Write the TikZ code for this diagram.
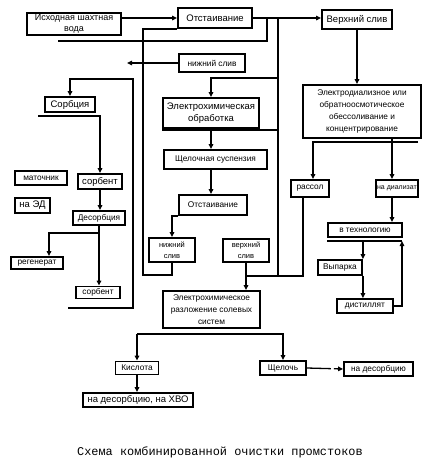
\documentclass[tikz,border=0pt]{standalone}
\usepackage{fontspec}
\setmainfont{Liberation Sans}
\newfontfamily\capfont{Liberation Mono}
\usetikzlibrary{arrows.meta}
\begin{document}
\begin{tikzpicture}[x=1pt,y=-1pt,
 box/.style={draw, line width=1.8pt, inner sep=0pt, align=center, font=\fontsize{9.5}{12}\selectfont},
 sm/.style={font=\fontsize{8.3}{12}\selectfont},
 ln/.style={line width=1.3pt},
 arr/.style={ln, -{Triangle[length=5pt,width=4.5pt]}}]
\useasboundingbox[fill=white] (0,0) rectangle (434,467);

% nodes
\node[box, minimum width=94pt, minimum height=22pt, font=\fontsize{9}{11}\selectfont] (src) at (74,24) {Исходная шахтная\\вода};
\node[box, minimum width=74pt, minimum height=20pt] (ots1) at (215,18) {Отстаивание};
\node[box, minimum width=70pt, minimum height=19pt] (vs1) at (357,19.5) {Верхний слив};
\node[box, minimum width=66pt, minimum height=18pt, sm] (ns1) at (212,63) {нижний слив};
\node[box, minimum width=50pt, minimum height=15pt] (sorb) at (70,104.5) {Сорбция};
\node[box, minimum width=96pt, minimum height=30pt] (eobr) at (211,113) {Электрохимическая\\обработка};
\node[box, minimum width=103pt, minimum height=19pt, sm] (shch) at (215.5,159.5) {Щелочная суспензия};
\node[box, minimum width=118pt, minimum height=53pt, font=\fontsize{8.3}{12.3}\selectfont] (ed) at (362,111.5) {Электродиализное или\\обратноосмотическое\\обессоливание и\\концентрирование};
\node[box, minimum width=52pt, minimum height=14pt, sm] (mat) at (41,178) {маточник};
\node[box, minimum width=44pt, minimum height=15pt] (sorbent1) at (100,181.5) {сорбент};
\node[box, minimum width=35pt, minimum height=15pt] (nued) at (32.5,205.5) {на ЭД};
\node[box, minimum width=38pt, minimum height=17pt, sm] (rassol) at (310,188.5) {рассол};
\node[box, minimum width=42pt, minimum height=17pt, font=\fontsize{7}{12}\selectfont] (dial) at (397,188.5) {на диализат};
\node[box, minimum width=68pt, minimum height=20pt, sm] (ots2) at (213,205) {Отстаивание};
\node[box, minimum width=52pt, minimum height=14pt, sm] (desorb) at (99,218) {Десорбция};
\node[box, minimum width=74pt, minimum height=14pt, sm] (vtech) at (365,230) {в технологию};
\node[box, minimum width=46pt, minimum height=24pt, font=\fontsize{7.5}{11}\selectfont] (ns2) at (172,250) {нижний\\слив};
\node[box, minimum width=46pt, minimum height=23pt, font=\fontsize{7.5}{11}\selectfont] (vs2) at (246,250.5) {верхний\\слив};
\node[box, minimum width=52pt, minimum height=12pt, sm] (regen) at (37,263) {регенерат};
\node[box, minimum width=44pt, minimum height=15pt, sm] (vyp) at (340,267.5) {Выпарка};
\node[box, minimum width=44pt, minimum height=12pt, sm] (sorbent2) at (98,292.5) {сорбент};
\node[box, minimum width=56pt, minimum height=14pt, sm] (distil) at (365,306) {дистиллят};
\node[box, minimum width=97pt, minimum height=37pt, font=\fontsize{8.3}{12.3}\selectfont] (ers) at (211.5,309.5) {Электрохимическое\\разложение солевых\\систем};
\node[box, minimum width=43pt, minimum height=13pt, sm] (acid) at (137,368) {Кислота};
\node[box, minimum width=46pt, minimum height=14pt, sm] (alk) at (283,368) {Щелочь};
\node[box, minimum width=69pt, minimum height=14pt, sm] (nades) at (378.5,369) {на десорбцию};
\node[box, minimum width=110pt, minimum height=14pt] (nadesxvo) at (138,400) {на десорбцию, на ХВО};
\node[font=\capfont\fontsize{11.9}{14}\selectfont] (cap) at (220,452) {Схема комбинированной очистки промстоков};

% coordinates
\coordinate (a1) at (278,19);
\coordinate (a2) at (278,276);
\coordinate (b1) at (267,19);
\coordinate (b2) at (58,41);
\coordinate (c1) at (143,275);
\coordinate (d1) at (127,63);
\coordinate (l1) at (68,308);
\coordinate (l2) at (133,79);
\coordinate (s1) at (38,116);
\coordinate (de1) at (99,233);
\coordinate (r1) at (303,276);
\coordinate (e1) at (418,142);
\coordinate (t1) at (327,241);
\coordinate (t2) at (402,241);
\coordinate (h1) at (137,334);

% connectors top
\draw[arr] (src.east |- ots1.west) -- (ots1.west);
\draw[arr] (ots1.east) -- (vs1.west |- ots1.east);
\draw[arr] (vs1.south) -- (vs1.south |- ed.north);
\draw[ln] (a1) -- (a2);
\draw[arr] (a1 |- 0,78) -| (eobr.north);
\draw[ln] (eobr.south west |- 0,130) -- (a1 |- 0,130);
\draw[ln] (b1) -- (b1 |- b2) -- (b2);
\draw[ln] (ots1.south west) -| (c1) -| (ns2.south);
\draw[arr] (ns1.west) -- (d1);

% left column
\draw[arr] (l1) -| (l2) -| (sorb.north);
\draw[arr] (s1) -| (sorbent1.north);
\draw[arr] (sorbent1.south) -- (sorbent1.south |- desorb.north);
\draw[arr] (desorb.south) -- (desorb.south |- sorbent2.north);
\draw[arr] (de1) -| ([xshift=12pt]regen.north);

% middle column
\draw[arr] (eobr.south) -- (eobr.south |- shch.north);
\draw[arr] (eobr.south |- shch.south) -- (eobr.south |- ots2.north);
\draw[arr] (ots2.south west) -| (ns2.north);
\draw[arr] (vs2.south) -- (vs2.south |- ers.north);
\draw[ln] (vs2.south |- r1) -- (r1) -- (r1 |- rassol.south);

% right column
\draw[arr] (e1) -| ([xshift=3pt]rassol.north);
\draw[arr] ([xshift=-5pt]dial.north |- ed.south) -- ([xshift=-5pt]dial.north);
\draw[arr] ([xshift=-5pt]dial.south) -- ([xshift=-5pt]dial.south |- vtech.north);
\draw[ln] (t1) -- (t2);
\draw[arr] (vyp.north east |- t1) -- (vyp.north east);
\draw[arr] (vyp.south east) -- (vyp.south east |- distil.north);
\draw[arr] (distil.east) -| (t2);

% bottom
\draw[arr] (h1) -- (acid.north);
\draw[arr] (h1) -| (alk.north);
\draw[arr] (acid.south) -- (acid.south |- nadesxvo.north);
\draw[ln, -{Triangle[length=5pt,width=4.5pt]}, dash pattern=on 24pt off 3pt on 6pt off 3pt] (alk.east) -- (nades.west);
\end{tikzpicture}
\end{document}
